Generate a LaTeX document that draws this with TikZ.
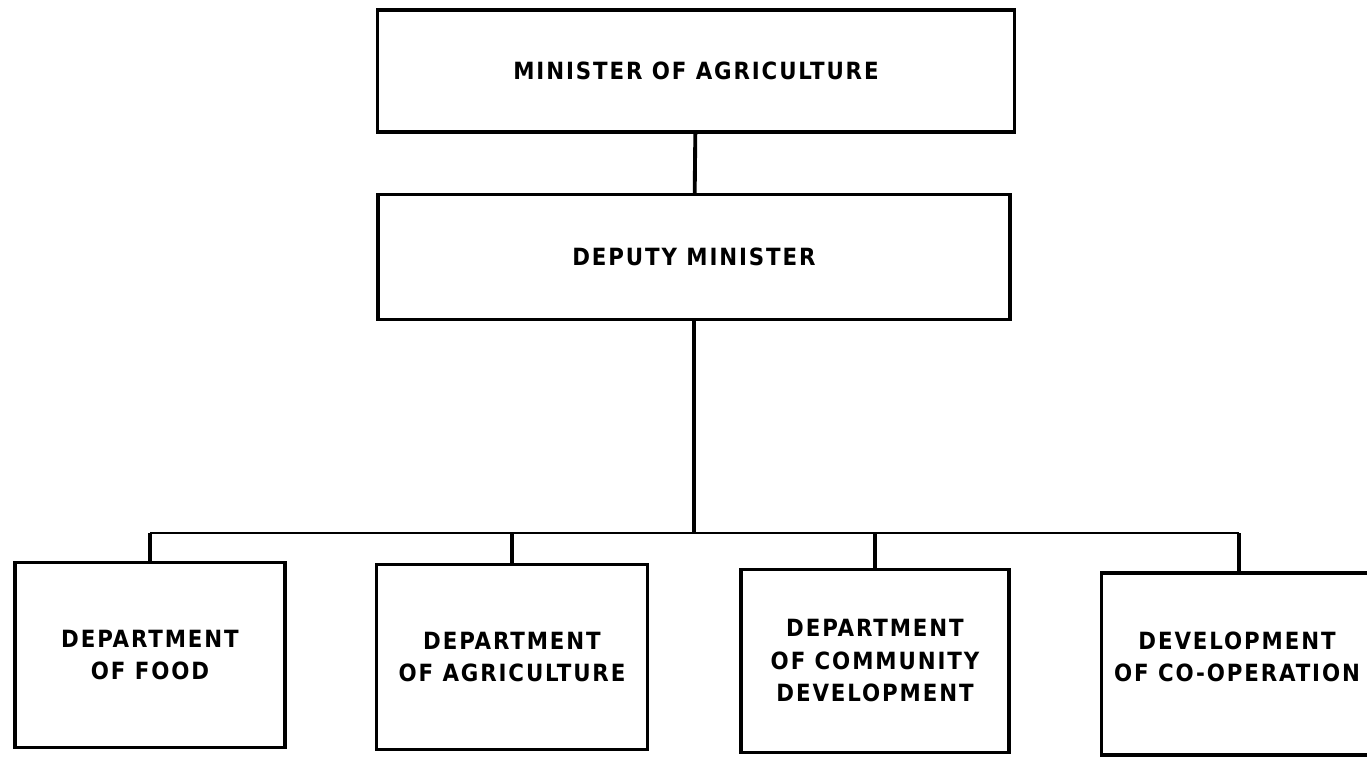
\documentclass[tikz,border=0pt]{standalone}
\usepackage{fontspec}
\newfontfamily\chartfont[LetterSpace=8]{DejaVu Sans Condensed}
\begin{document}
\begin{tikzpicture}[x=0.02cm, y=-0.02cm,
    office/.style={draw, line width=1.9pt, align=center, inner sep=0pt},
    link/.style={line width=2.2pt},
    barline/.style={line width=1.2pt},
    every node/.style={font=\chartfont\bfseries\fontsize{13.5}{18.5}\selectfont}
]
    \useasboundingbox (0,0) rectangle (1367,758);

    % top of the chart
    \node[office, minimum width=12.74cm, minimum height=2.44cm] (minister) at (696,71) {MINISTER OF AGRICULTURE};
    \node[office, minimum width=12.64cm, minimum height=2.5cm] (deputy) at (694,257) {DEPUTY MINISTER};

    % departments
    \node[office, minimum width=5.4cm, minimum height=3.7cm] (food) at (150,655) {DEPARTMENT\\OF FOOD};
    \node[office, minimum width=5.42cm, minimum height=3.7cm] (agri) at (512,657) {DEPARTMENT\\OF AGRICULTURE};
    \node[office, minimum width=5.36cm, minimum height=3.66cm] (comm) at (875,661) {DEPARTMENT\\OF COMMUNITY\\DEVELOPMENT};
    % last box runs off the sheet
    \node[office, anchor=west, minimum width=7cm, minimum height=3.64cm] (coop) at (1100,664) {};
    \node[align=center] (cooptext) at (1237,657) {DEVELOPMENT\\OF CO-OPERATION};

    \coordinate (bar) at (694,533);
    \coordinate (coopjoin) at (1239,533);

    \draw[link] (minister) -- (deputy);
    \draw[link] (deputy) -- (bar);
    \draw[barline] (food.north |- bar) -- (coopjoin);
    \foreach \d in {food,agri,comm}
        \draw[link] (\d.north) -- (\d.north |- bar);
    \draw[link] (coopjoin) -- (coopjoin |- coop.north);
\end{tikzpicture}
\end{document}
